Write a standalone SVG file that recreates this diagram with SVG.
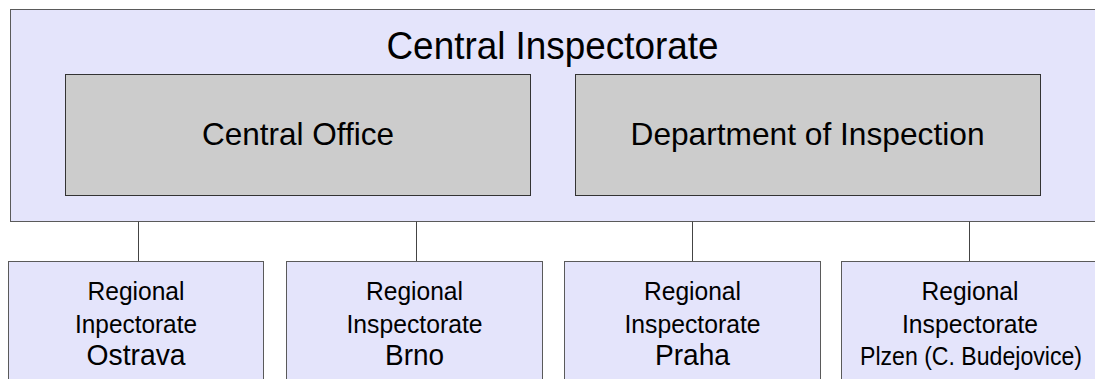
<svg xmlns="http://www.w3.org/2000/svg" width="1095" height="379" viewBox="0 0 1095 379">
<style>
.outer{fill:#e4e4fb;stroke:#5a5a5a;stroke-width:1}
.inner{fill:#cccccc;stroke:#333333;stroke-width:1}
.reg{fill:#e4e4fb;stroke:#5a5a5a;stroke-width:1}
.t{font-family:"Liberation Sans",Arial,sans-serif;fill:#000;text-anchor:middle}
.conn{stroke:#444;stroke-width:1;fill:none}
</style>
<rect width="1095" height="379" fill="#ffffff"/>
<g id="central-inspectorate">
<rect class="outer" x="10.5" y="9.5" width="1095" height="212"/>
<text class="t" x="552.5" y="59" font-size="39" textLength="332" lengthAdjust="spacingAndGlyphs">Central Inspectorate</text>
</g>
<g id="central-office">
<rect class="inner" x="65.5" y="74.5" width="465" height="121"/>
<text class="t" x="298" y="145" font-size="32" textLength="192" lengthAdjust="spacingAndGlyphs">Central Office</text>
</g>
<g id="department-of-inspection">
<rect class="inner" x="575.5" y="74.5" width="465" height="121"/>
<text class="t" x="807.5" y="145" font-size="32" textLength="354" lengthAdjust="spacingAndGlyphs">Department of Inspection</text>
</g>
<g id="connectors">
<line class="conn" x1="138.5" y1="221.5" x2="138.5" y2="261.5"/>
<line class="conn" x1="416.5" y1="221.5" x2="416.5" y2="261.5"/>
<line class="conn" x1="692.5" y1="221.5" x2="692.5" y2="261.5"/>
<line class="conn" x1="969.5" y1="221.5" x2="969.5" y2="261.5"/>
</g>
<g id="ri-ostrava">
<rect class="reg" x="8.5" y="261.5" width="255" height="130"/>
<text class="t" x="136" y="300" font-size="26" textLength="97" lengthAdjust="spacingAndGlyphs">Regional</text>
<text class="t" x="136" y="333" font-size="26" textLength="122" lengthAdjust="spacingAndGlyphs">Inpectorate</text>
<text class="t" x="136" y="365" font-size="30" textLength="99" lengthAdjust="spacingAndGlyphs">Ostrava</text>
</g>
<g id="ri-brno">
<rect class="reg" x="286.5" y="261.5" width="256" height="130"/>
<text class="t" x="414.5" y="300" font-size="26" textLength="97" lengthAdjust="spacingAndGlyphs">Regional</text>
<text class="t" x="414.5" y="333" font-size="26" textLength="136" lengthAdjust="spacingAndGlyphs">Inspectorate</text>
<text class="t" x="414.5" y="365" font-size="30" textLength="59" lengthAdjust="spacingAndGlyphs">Brno</text>
</g>
<g id="ri-praha">
<rect class="reg" x="564.5" y="261.5" width="256" height="130"/>
<text class="t" x="692.5" y="300" font-size="26" textLength="97" lengthAdjust="spacingAndGlyphs">Regional</text>
<text class="t" x="692.5" y="333" font-size="26" textLength="136" lengthAdjust="spacingAndGlyphs">Inspectorate</text>
<text class="t" x="692.5" y="365" font-size="30" textLength="75" lengthAdjust="spacingAndGlyphs">Praha</text>
</g>
<g id="ri-plzen">
<rect class="reg" x="841.5" y="261.5" width="260" height="130"/>
<text class="t" x="970" y="300" font-size="26" textLength="97" lengthAdjust="spacingAndGlyphs">Regional</text>
<text class="t" x="970" y="333" font-size="26" textLength="136" lengthAdjust="spacingAndGlyphs">Inspectorate</text>
<text class="t" x="971" y="365" font-size="25" textLength="222" lengthAdjust="spacingAndGlyphs">Plzen (C. Budejovice)</text>
</g>
</svg>
